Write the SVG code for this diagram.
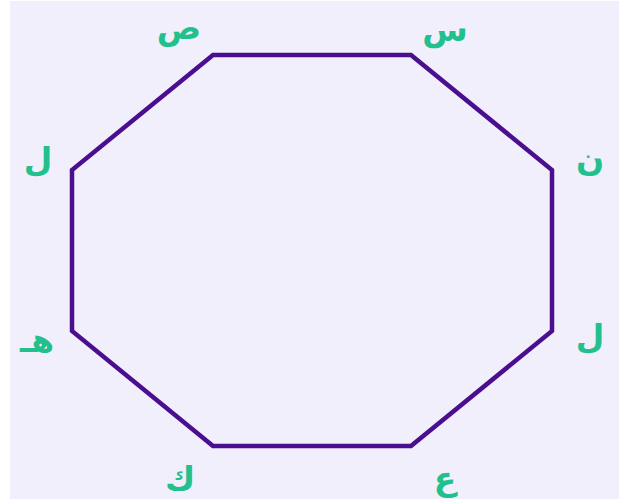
<svg xmlns="http://www.w3.org/2000/svg" width="619" height="502" viewBox="0 0 619 502">
<style>
.lbl{font-family:"DejaVu Sans","Noto Sans",sans-serif;font-size:33px;font-weight:bold;fill:#22c08c;text-anchor:middle;dominant-baseline:central}
.edge{fill:none;stroke:#4a0e8f;stroke-width:4.5;stroke-linejoin:miter}
</style>
<rect x="0" y="0" width="619" height="502" fill="#ffffff"/>
<rect x="10" y="1" width="609" height="498" fill="#f1effc"/>
<g id="connectors">
<polygon class="edge" points="213,55 411,55 552,170 552,331 411,446 213,446 72,331 72,170"/>
</g>
<g id="n1"><text class="lbl" x="179" y="27">ص</text></g>
<g id="n2"><text class="lbl" x="445" y="29">س</text></g>
<g id="n3"><text class="lbl" x="590" y="159">ن</text></g>
<g id="n4"><text class="lbl" x="590" y="336">ل</text></g>
<g id="n5"><text class="lbl" x="445" y="478">ع</text></g>
<g id="n6"><text class="lbl" x="180" y="478">ك</text></g>
<g id="n7"><text class="lbl" x="37" y="340">هـ</text></g>
<g id="n8"><text class="lbl" x="38" y="159">ل</text></g>
</svg>
